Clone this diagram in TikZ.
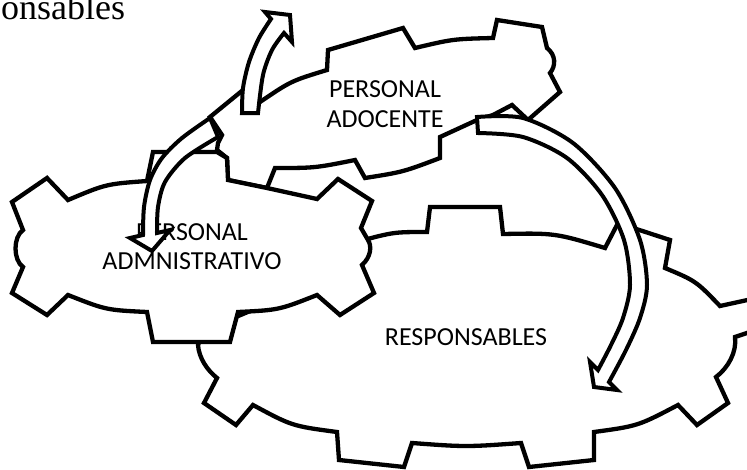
\documentclass[tikz,border=0pt]{standalone}
\usepackage{fontspec}
\setmainfont{Carlito}
\newfontfamily\headfont{Liberation Serif}
\begin{document}
\begin{tikzpicture}[x=1pt,y=-1pt,
  gear/.style={draw=black,fill=white,line width=4.3pt,line join=miter},
  blockarrow/.style={draw=black,fill=white,line width=4pt,line join=miter},
  lbl/.style={font=\fontsize{26}{30}\selectfont,anchor=base,inner sep=0pt},
  hdr/.style={font=\headfont\fontsize{36}{40}\selectfont,anchor=base west,inner sep=0pt}]
\useasboundingbox (0,0) rectangle (747,469);
\fill[white] (0,0) rectangle (747,469);
\clip (0,0) rectangle (747,469);
% RESPONSABLES gear
\draw[gear] (360,241) .. controls (394,232) .. (427,232) -- (430,207) -- (500,207) -- (503,234)
  .. controls (555,233) .. (605,248) -- (618,223) -- (670,240) -- (665,268)
  .. controls (696,281) .. (720,306) -- (752,299) -- (765,327) -- (735,337)
  .. controls (737,352) and (728,368) .. (716,377) -- (728,403) -- (697,425) -- (678,405)
  .. controls (638,426) .. (594,432) -- (594,460) -- (529,467) -- (521,443)
  .. controls (466,447) .. (412,443) -- (404,467) -- (339,460) -- (337,432)
  .. controls (292,426) .. (253,405) -- (236,425) -- (204,403) -- (217,378)
  .. controls (207,370) and (199,358) .. (198,345) -- (205,330) -- (300,290) -- (355,255) -- cycle;
% ADOCENTE gear
\draw[gear] (210,117) -- (243,90) -- (252,98) -- (260,102) .. controls (291,81) .. (327,70)
  -- (328,50) -- (403,28) -- (415,48) .. controls (453,39) .. (493,38) -- (497,20) -- (542,27) -- (547,48)
  .. controls (556,55) and (556,66) .. (550,73) -- (560,92) -- (528,120) -- (512,105)
  -- (493,115) -- (477,120) -- (440,137) -- (440,158) .. controls (403,172) .. (365,178) -- (355,160)
  .. controls (315,168) .. (275,168) -- (267,188) -- (228,180) -- (227,158) -- (217,150) -- (218,143)
  -- (222,135) -- cycle;
% ADMINISTRATIVO gear
\draw[gear] (68,200) .. controls (106,184) .. (147,181) -- (153,152) -- (217,152) -- (227,158) -- (228,180)
  -- (267,188) -- (317,199) -- (338,179) -- (372,201) -- (361,228) -- (368,240)
  .. controls (372,246) and (371,257) .. (362,265) -- (374,293) -- (340,315) -- (317,295)
  .. controls (279,310) .. (238,312) -- (230,342) -- (153,342) -- (147,312)
  .. controls (106,310) .. (68,295) -- (47,315) -- (12,293) -- (23,267)
  .. controls (13,260) and (13,237) .. (23,230) -- (12,202) -- (47,178) -- cycle;
% labels
\node[lbl] (adoc1) at (385,97) {PERSONAL};
\node[lbl] (adoc2) at (385,127) {ADOCENTE};
\node[lbl] (adm1) at (192,240) {PERSONAL};
\node[lbl] (adm2) at (192,269) {ADMNISTRATIVO};
\node[lbl] (resp) at (466,345) {RESPONSABLES};
% arrows
\draw[blockarrow] plot[smooth] coordinates {(242,113) (243,88) (249,62) (259,38) (271,19)}
  -- (265,12) -- (290,15) -- (292,42) -- (284,33)
  -- plot[smooth] coordinates {(284,33) (272,50) (263,75) (258,113)} -- cycle;
\draw[blockarrow] plot[smooth] coordinates {(210,118) (182,138) (162,158) (150,180) (144,207) (143,235)}
  -- (130,238) -- (152,251) -- (170,230) -- (157,233)
  -- plot[smooth] coordinates {(157,233) (158,207) (165,182) (185,158) (218,137)} -- cycle;
\draw[blockarrow] plot[smooth] coordinates {(477,117) (523,118) (573,143) (615,188) (640,240) (647,285) (640,318) (626,350) (609,382)}
  -- (617,390) -- (594,387) -- (590,362) -- (598,370)
  -- plot[smooth] coordinates {(598,370) (611,345) (623,318) (630,285) (624,240) (602,195) (567,158) (523,137) (478,133)} -- cycle;
% header
\node[hdr] (hdr) at (1,19.5) {onsables};
\end{tikzpicture}
\end{document}
